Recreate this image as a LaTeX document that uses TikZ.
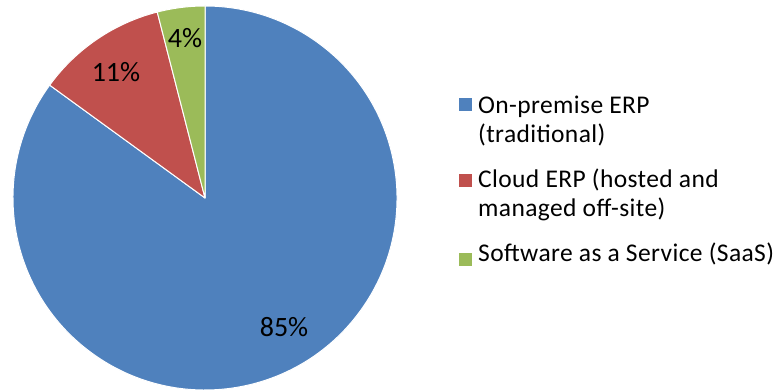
\documentclass[tikz,border=0pt]{standalone}
\usepackage{fontspec}
\setmainfont{Carlito}
\newfontfamily\legfont[LetterSpace=1.5]{Carlito}
\definecolor{pblue}{HTML}{4F81BD}
\definecolor{pred}{HTML}{C0504D}
\definecolor{pgreen}{HTML}{9BBB59}
\begin{document}
\begin{tikzpicture}[x=1pt,y=1pt,
  slice/.style={draw=white,line width=1pt,line join=round},
  pct/.style={anchor=base,inner sep=0pt,font=\fontsize{28}{32}\selectfont},
  leg/.style={anchor=base west,inner sep=0pt,font=\legfont\fontsize{25.5}{29}\selectfont},
  legbox/.style={minimum size=13pt,inner sep=0pt,outer sep=0pt}]
\useasboundingbox (0,0) rectangle (778,390);
\coordinate (c) at (205,192);
\fill[pblue,slice] (c) -- ++(144:192) arc[start angle=144,end angle=450,radius=192] -- cycle;
\fill[pred,slice] (c) -- ++(104.4:192) arc[start angle=104.4,end angle=144,radius=192] -- cycle;
\fill[pgreen,slice] (c) -- ++(90:192) arc[start angle=90,end angle=104.4,radius=192] -- cycle;
\node[pct] (p85) at (284,53) {85\%};
\node[pct] (p11) at (116,308) {11\%};
\node[pct] (p4) at (185,342) {4\%};
\node[legbox,fill=pblue] (b1) at (465.5,285) {};
\node[leg] (t1a) at (478,276) {On-premise ERP};
\node[leg] (t1b) at (478,247) {(traditional)};
\node[legbox,fill=pred] (b2) at (465.5,209) {};
\node[leg] (t2a) at (478,202) {Cloud ERP (hosted and};
\node[leg] (t2b) at (478,173) {managed off-site)};
\node[legbox,fill=pgreen] (b3) at (465.5,130) {};
\node[leg] (t3) at (478,128) {Software as a Service (SaaS)};
\end{tikzpicture}
\end{document}
